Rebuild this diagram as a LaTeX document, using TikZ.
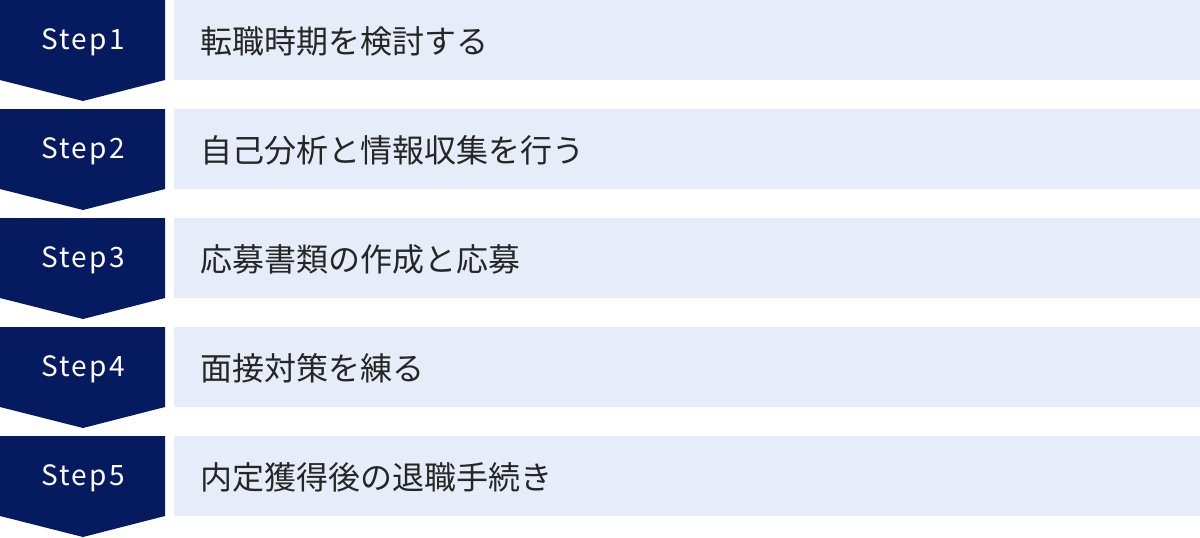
\documentclass[tikz,border=0pt]{standalone}
\usepackage{fontspec}
\newfontfamily\jpfont{Noto Sans CJK JP}
\newfontfamily\stepfont[LetterSpace=8]{Noto Sans CJK JP}
\definecolor{navy}{HTML}{061A60}
\definecolor{paleblue}{HTML}{E6ECF8}
\begin{document}
\begin{tikzpicture}[x=1pt,y=-1pt,
  steplabel/.style={text=white,inner sep=0pt,font=\stepfont\fontsize{28}{30}\selectfont},
  stagebox/.style={fill=paleblue,draw=none,inner sep=0pt,minimum width=1026pt,minimum height=80pt,anchor=north west},
  stagetext/.style={text=black!85,inner sep=0pt,anchor=west,font=\jpfont\fontsize{32}{36}\selectfont}]
\useasboundingbox (0,0) rectangle (1200,538);
\foreach \i/\txt in {1/転職時期を検討する,2/自己分析と情報収集を行う,3/応募書類の作成と応募,4/面接対策を練る,5/内定獲得後の退職手続き}{
	\pgfmathsetmacro\top{(\i-1)*109}
	% chevron
	\fill[navy] (0,\top) -- +(165,0) -- +(165,80) -- +(83,101) -- +(0,80) -- cycle;
	\node[stagebox] (box\i) at (174,\top) {};
	\node[steplabel] (step\i) at (83,\top+42) {Step\i};
	\node[stagetext] (text\i) at (200,\top+41) {\txt};
}
\end{tikzpicture}
\end{document}
